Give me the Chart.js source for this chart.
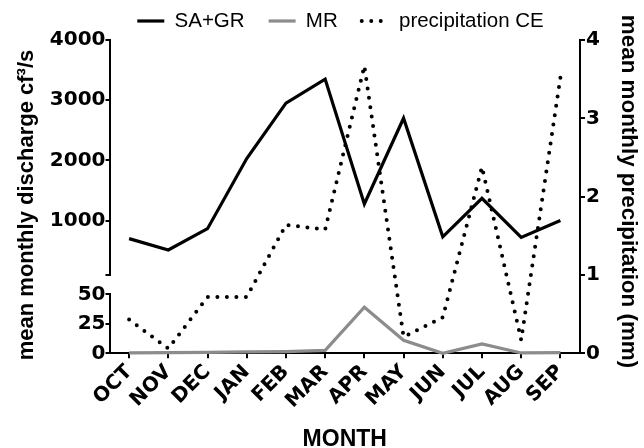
<!DOCTYPE html>
<html>
<head>
<meta charset="utf-8">
<script src="https://cdn.jsdelivr.net/npm/chart.js@4/dist/chart.umd.min.js"></script>
<style>
  html, body { margin: 0; padding: 0; background: #ffffff; }
  #wrap { width: 644px; height: 448px; }
</style>
</head>
<body>
<div id="wrap"><canvas id="c" width="644" height="448"></canvas></div>
<script>
// ---- data ----
const months = ['OCT', 'NOV', 'DEC', 'JAN', 'FEB', 'MAR', 'APR', 'MAY', 'JUN', 'JUL', 'AUG', 'SEP'];
const saGr = [700, 510, 865, 2030, 2950, 3350, 1275, 2700, 730, 1370, 720, 1000];
const mr = [0.3, 0.5, 0.8, 1.2, 1.5, 2.5, 39, 11, 0, 8, 0.3, 0.5];
const precip = [0.43, 0.06, 0.72, 0.72, 1.64, 1.58, 3.67, 0.21, 0.46, 2.38, 0.17, 3.52];
const dischargeTopTicks = [1000, 2000, 3000, 4000];
const dischargeBottomTicks = [0, 25, 50];
const precipTicks = [0, 1, 2, 3, 4];
const topSegmentMin = 100;
const seriesLabels = ['SA+GR', 'MR', 'precipitation CE'];
const leftTitle = 'mean monthly discharge cf\u00B3/s';
const rightTitle = 'mean monthly precipitation (mm)';
const xTitle = 'MONTH';

// ---- styling ----
const tickFont = { family: 'DejaVu Sans', weight: 'bold', size: 20 };
const gridOpts = { display: true, drawOnChartArea: false, color: '#000', lineWidth: 2, tickLength: 5 };
const borderOpts = { display: true, color: '#000', width: 2 };
const LEFT_W = 72.5;

const legendFitPlugin = {
  id: 'legendFit',
  beforeLayout(chart) {
    const lg = chart.legend;
    if (lg && !lg._patched) {
      const orig = lg.fit;
      lg.fit = function () { orig.call(this); this.height = 53.25; };
      lg._patched = true;
    }
  }
};

const sideTitlesPlugin = {
  id: 'sideTitles',
  afterDraw(chart) {
    const ctx = chart.ctx;
    ctx.save();
    ctx.fillStyle = '#000';
    ctx.textAlign = 'center';
    ctx.textBaseline = 'alphabetic';
    ctx.font = 'bold 22px "Liberation Sans", Arial, sans-serif';
    ctx.save();
    ctx.translate(33.3, 205);
    ctx.rotate(-Math.PI / 2);
    ctx.fillText(leftTitle, 0, 0);
    ctx.restore();
    ctx.font = 'bold 22.4px "Liberation Sans", Arial, sans-serif';
    ctx.save();
    ctx.translate(621.7, 191.5);
    ctx.rotate(Math.PI / 2);
    ctx.fillText(rightTitle, 0, 0);
    ctx.restore();
    ctx.restore();
  }
};

const numLabel = (v) => String(v);

new Chart(document.getElementById('c'), {
  type: 'line',
  data: {
    labels: months,
    datasets: [
      { label: seriesLabels[0], data: saGr, yAxisID: 'yTop', borderColor: '#000', backgroundColor: '#000',
        borderWidth: 3.2, pointRadius: 0, tension: 0, fill: false, clip: false },
      { label: seriesLabels[1], data: mr, yAxisID: 'yBot', borderColor: '#8c8c8c', backgroundColor: '#8c8c8c',
        borderWidth: 3.2, pointRadius: 0, tension: 0, fill: false, clip: false },
      { label: seriesLabels[2], data: precip, yAxisID: 'y2', borderColor: '#000', backgroundColor: '#000',
        borderWidth: 4, borderDash: [0, 9.5], borderCapStyle: 'round', pointRadius: 0, tension: 0, fill: false, clip: false }
    ]
  },
  options: {
    responsive: false,
    devicePixelRatio: 1,
    animation: false,
    layout: { padding: { left: 37, right: 0, top: -13.25, bottom: 0 } },
    plugins: {
      tooltip: { enabled: false },
      legend: {
        display: true,
        position: 'top',
        labels: {
          usePointStyle: true,
          pointStyle: 'line',
          pointStyleWidth: 27,
          padding: 24,
          color: '#000',
          font: { family: 'Liberation Sans', size: 20.5 },
          generateLabels(chart) {
            const items = Chart.defaults.plugins.legend.labels.generateLabels(chart);
            items.forEach((it) => {
              const ds = chart.data.datasets[it.datasetIndex];
              it.lineDash = ds.borderDash || [];
              it.lineCap = ds.borderCapStyle || 'butt';
              it.lineWidth = ds.borderWidth;
              it.strokeStyle = ds.borderColor;
              it.pointStyle = 'line';
            });
            return items;
          }
        }
      }
    },
    scales: {
      x: {
        type: 'category',
        offset: true,
        grid: Object.assign({}, gridOpts, { offset: false }),
        border: borderOpts,
        ticks: { color: '#000', font: tickFont, minRotation: 45, maxRotation: 45, autoSkip: false, padding: 2 },
        title: { display: true, text: xTitle, color: '#000',
                 font: { family: 'Liberation Sans', weight: 'bold', size: 23, lineHeight: 0.75 },
                 padding: { top: 0, bottom: 0 } },
        afterFit(s) { s.height = 94.7; }
      },
      yTop: {
        type: 'linear', position: 'left', stack: 'left', stackWeight: 234.7, weight: 3,
        min: topSegmentMin, max: dischargeTopTicks[dischargeTopTicks.length - 1],
        afterBuildTicks(s) { s.ticks = [topSegmentMin].concat(dischargeTopTicks).map(v => ({ value: v })); },
        grid: Object.assign({}, gridOpts, { tickLength: 4 }), border: borderOpts,
        ticks: { color: '#000', font: tickFont, padding: 0, autoSkip: false,
                 callback: (v) => v === topSegmentMin ? '' : numLabel(v) },
        afterFit(s) { s.width = LEFT_W; }
      },
      yGap: {
        type: 'linear', position: 'left', stack: 'left', stackWeight: 19.6, weight: 2,
        min: 0, max: 1,
        grid: { display: false }, border: { display: false }, ticks: { display: false },
        afterFit(s) { s.width = LEFT_W; }
      },
      yBot: {
        type: 'linear', position: 'left', stack: 'left', stackWeight: 59, weight: 1,
        min: dischargeBottomTicks[0], max: dischargeBottomTicks[dischargeBottomTicks.length - 1],
        afterBuildTicks(s) { s.ticks = dischargeBottomTicks.map(v => ({ value: v })); },
        grid: Object.assign({}, gridOpts, { tickLength: 4 }), border: borderOpts,
        ticks: { color: '#000', font: tickFont, padding: 0, autoSkip: false, callback: numLabel },
        afterFit(s) { s.width = LEFT_W; }
      },
      y2: {
        type: 'linear', position: 'right',
        min: precipTicks[0], max: precipTicks[precipTicks.length - 1],
        afterBuildTicks(s) { s.ticks = precipTicks.map(v => ({ value: v })); },
        grid: gridOpts, border: borderOpts,
        ticks: { color: '#000', font: tickFont, padding: 1, autoSkip: false, callback: numLabel },
        afterFit(s) { s.width = 64; }
      }
    }
  },
  plugins: [legendFitPlugin, sideTitlesPlugin]
});
</script>
</body>
</html>
